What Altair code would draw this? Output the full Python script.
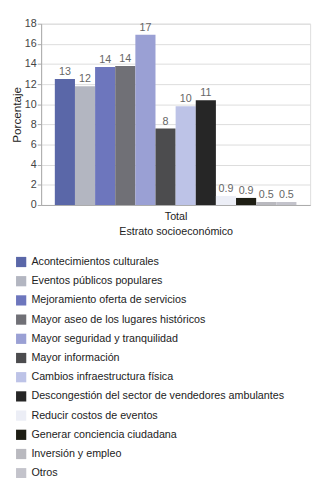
import altair as alt
import pandas as pd

categorias = [
    "Acontecimientos culturales",
    "Eventos públicos populares",
    "Mejoramiento oferta de servicios",
    "Mayor aseo de los lugares históricos",
    "Mayor seguridad y tranquilidad",
    "Mayor información",
    "Cambios infraestructura física",
    "Descongestión del sector de vendedores ambulantes",
    "Reducir costos de eventos",
    "Generar conciencia ciudadana",
    "Inversión y empleo",
    "Otros",
]
valores = [12.5, 11.8, 13.7, 13.8, 16.9, 7.6, 9.8, 10.4, 0.9, 0.7, 0.3, 0.3]
etiquetas = ["13", "12", "14", "14", "17", "8", "10", "11", "0.9", "0.9", "0.5", "0.5"]
colores = ["#5a67a8", "#b3b6c1", "#6d76bd", "#707076", "#9aa0d4", "#4c4c4e",
           "#bdc3e7", "#262626", "#eceef6", "#1e1e14", "#b9b9bf", "#c3c3cb"]
y_ticks = [0, 2, 4, 6, 8, 10, 12, 14, 16, 18]

df = pd.DataFrame({"cat": categorias, "valor": valores, "etiqueta": etiquetas})

FONT = "Liberation Sans"

base = alt.Chart(df).encode(
    x=alt.X(
        "cat:N",
        sort=categorias,
        scale=alt.Scale(paddingInner=0, paddingOuter=0.68),
        axis=alt.Axis(
            labels=False, ticks=False, title=["Total", "Estrato socioeconómico"],
            titleFont=FONT, titleFontSize=11, titleFontWeight="normal", titleColor="#222",
            titleLineHeight=15, titlePadding=6, domainColor="#aaa",
        ),
    ),
    y=alt.Y(
        "valor:Q",
        scale=alt.Scale(domain=[0, 18], nice=False),
        axis=alt.Axis(
            values=y_ticks, labelOverlap=False, title="Porcentaje", titleFont=FONT,
            titleFontSize=12, titleFontWeight="normal", titleColor="#222", titlePadding=1,
            labelFont=FONT, labelFontSize=11, labelColor="#444", labelPadding=1,
            tickSize=4, tickColor="#aaa", domainColor="#aaa", gridColor="#dcdcdc",
        ),
    ),
)

bars = base.mark_bar().encode(
    color=alt.Color(
        "cat:N",
        sort=categorias,
        scale=alt.Scale(domain=categorias, range=colores),
        legend=alt.Legend(
            title=None, orient="none", legendX=-26, legendY=239,
            symbolType="square", symbolSize=110, symbolStrokeWidth=0,
            labelFont=FONT, labelFontSize=11, labelColor="#222",
            labelLimit=320, rowPadding=7.7, labelOffset=5,
        ),
    ),
)

text = base.mark_text(
    baseline="bottom", dy=-2, font=FONT, fontSize=11, color="#666"
).encode(text="etiqueta:N")

chart = (
    alt.layer(bars, text)
    .properties(
        width=276, height=186,
        autosize=alt.AutoSizeParams(type="none"),
        padding={"left": 34, "top": 10, "right": 5, "bottom": 274},
    )
    .configure_view(stroke="#d0d0d0")
    .configure(background="white")
)

chart.save("out.html", embed_options={"renderer": "svg", "actions": False})
